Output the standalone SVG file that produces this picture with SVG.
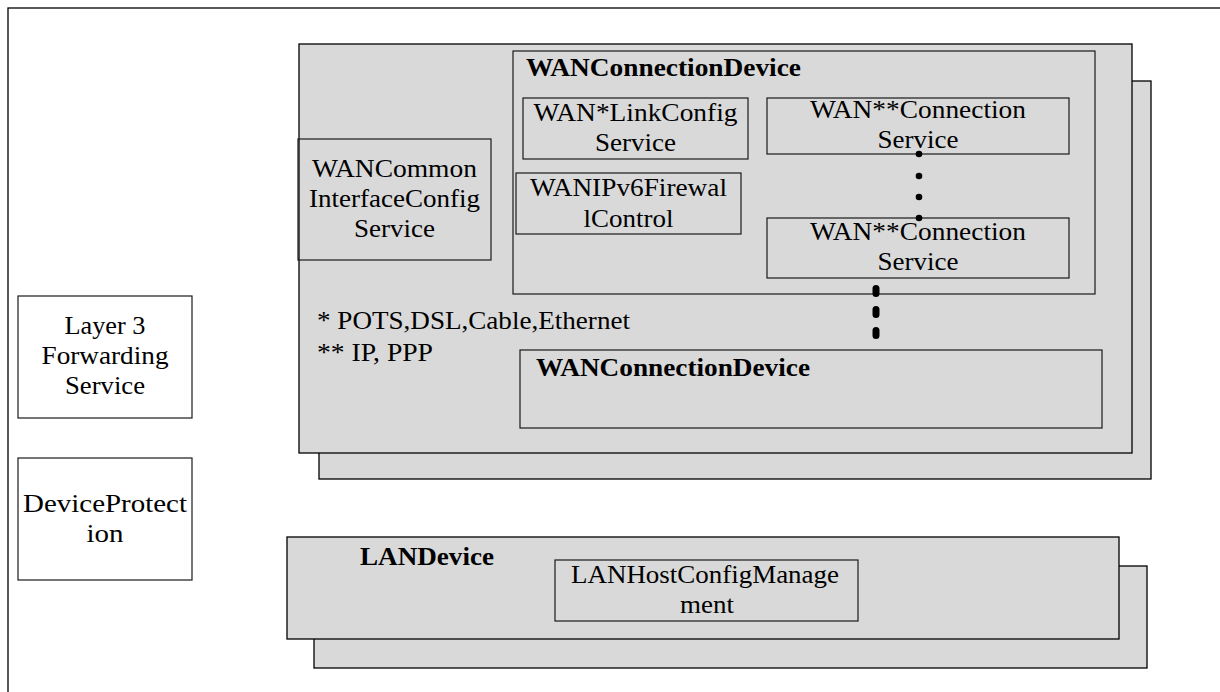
<svg xmlns="http://www.w3.org/2000/svg" width="1220" height="692" viewBox="0 0 1220 692">
<style>
.bg{fill:#ffffff}
.frame{fill:none;stroke:#000;stroke-width:1.3}
.g{fill:#d9d9d9;stroke:#000;stroke-width:1.3}
.b{fill:none;stroke:#1a1a1a;stroke-width:1.2}
.w{fill:#ffffff;stroke:#1a1a1a;stroke-width:1.2}
text{font-family:"Liberation Serif","Times New Roman",serif;fill:#000;font-size:26px}
.t{text-anchor:middle}
.hb{font-weight:bold}
.dot{fill:#000}
.dash{stroke:#000;stroke-width:7;stroke-linecap:round;stroke-dasharray:5 16;fill:none}
</style>
<rect class="bg" x="0" y="0" width="1220" height="692"/>
<rect class="frame" x="8" y="8" width="1400" height="900"/>

<g id="wan-device">
  <rect class="g" x="319" y="81" width="832" height="398"/>
  <rect class="g" x="299" y="44" width="833" height="409"/>
  <text x="317" y="329" textLength="313" lengthAdjust="spacingAndGlyphs">* POTS,DSL,Cable,Ethernet</text>
  <text x="317" y="361" textLength="116" lengthAdjust="spacingAndGlyphs">** IP, PPP</text>
</g>

<g id="wan-common">
  <rect class="b" x="298" y="139" width="193" height="121"/>
  <text class="t" x="394.5" y="177" textLength="165" lengthAdjust="spacingAndGlyphs">WANCommon</text>
  <text class="t" x="394.5" y="207" textLength="171" lengthAdjust="spacingAndGlyphs">InterfaceConfig</text>
  <text class="t" x="394.5" y="237" textLength="81" lengthAdjust="spacingAndGlyphs">Service</text>
</g>

<g id="wan-connection-device-1">
  <rect class="b" x="513" y="51" width="582" height="243"/>
  <text class="hb" x="526" y="76" textLength="275" lengthAdjust="spacingAndGlyphs">WANConnectionDevice</text>
</g>

<g id="wan-link-config">
  <rect class="b" x="523" y="98" width="225" height="61"/>
  <text class="t" x="635.5" y="121" textLength="204" lengthAdjust="spacingAndGlyphs">WAN*LinkConfig</text>
  <text class="t" x="635.5" y="151" textLength="81" lengthAdjust="spacingAndGlyphs">Service</text>
</g>

<g id="wan-ipv6-firewall">
  <rect class="b" x="516" y="173" width="225" height="61"/>
  <text class="t" x="628.5" y="196" textLength="197" lengthAdjust="spacingAndGlyphs">WANIPv6Firewal</text>
  <text class="t" x="628.5" y="227" textLength="90" lengthAdjust="spacingAndGlyphs">lControl</text>
</g>

<g id="wan-connection-service-1">
  <rect class="b" x="767" y="98" width="302" height="56"/>
  <text class="t" x="918" y="118" textLength="216" lengthAdjust="spacingAndGlyphs">WAN**Connection</text>
  <text class="t" x="918" y="148" textLength="81" lengthAdjust="spacingAndGlyphs">Service</text>
</g>

<g id="wan-connection-service-2">
  <rect class="b" x="767" y="218" width="302" height="60"/>
  <text class="t" x="918" y="240" textLength="216" lengthAdjust="spacingAndGlyphs">WAN**Connection</text>
  <text class="t" x="918" y="270" textLength="81" lengthAdjust="spacingAndGlyphs">Service</text>
</g>

<g id="wan-connection-device-2">
  <rect class="b" x="520" y="350" width="582" height="78"/>
  <text class="hb" x="536" y="376" textLength="274" lengthAdjust="spacingAndGlyphs">WANConnectionDevice</text>
</g>

<g id="layer3-forwarding">
  <rect class="w" x="18" y="296" width="174" height="122"/>
  <text class="t" x="105" y="334" textLength="81" lengthAdjust="spacingAndGlyphs">Layer 3</text>
  <text class="t" x="105" y="364" textLength="127" lengthAdjust="spacingAndGlyphs">Forwarding</text>
  <text class="t" x="105" y="394" textLength="80" lengthAdjust="spacingAndGlyphs">Service</text>
</g>

<g id="device-protection">
  <rect class="w" x="18" y="458" width="174" height="122"/>
  <text class="t" x="105" y="512" textLength="164" lengthAdjust="spacingAndGlyphs">DeviceProtect</text>
  <text class="t" x="105" y="542" textLength="37" lengthAdjust="spacingAndGlyphs">ion</text>
</g>

<g id="lan-device">
  <rect class="g" x="314" y="566" width="833" height="102"/>
  <rect class="g" x="287" y="537" width="832" height="102"/>
  <text class="hb" x="360" y="565" textLength="134" lengthAdjust="spacingAndGlyphs">LANDevice</text>
</g>

<g id="lan-host-config">
  <rect class="b" x="555" y="560" width="303" height="61"/>
  <text class="t" x="705" y="583" textLength="268" lengthAdjust="spacingAndGlyphs">LANHostConfigManage</text>
  <text class="t" x="707" y="613" textLength="54" lengthAdjust="spacingAndGlyphs">ment</text>
</g>

<g id="connectors">
  <circle class="dot" cx="919" cy="154" r="3.3"/>
  <circle class="dot" cx="919" cy="176" r="3.3"/>
  <circle class="dot" cx="919" cy="197" r="3.3"/>
  <circle class="dot" cx="919" cy="218" r="3.3"/>
  <line class="dash" x1="876" y1="288.5" x2="876" y2="335.5"/>
</g>
</svg>
